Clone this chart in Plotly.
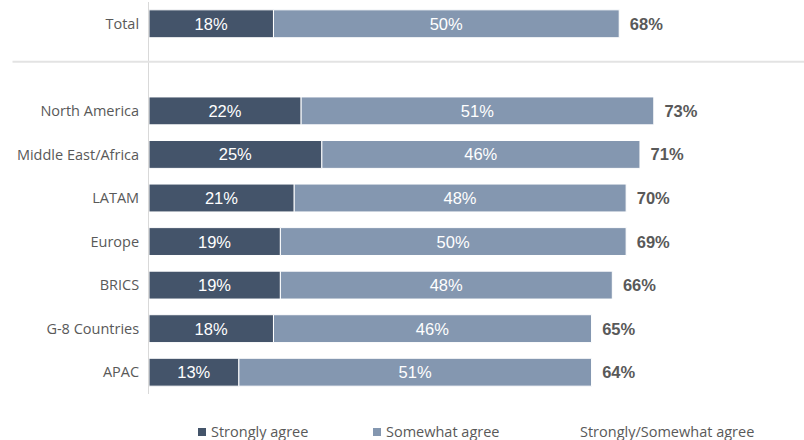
import plotly.graph_objects as go

categories = ["Total", " ", "North America", "Middle East/Africa", "LATAM", "Europe", "BRICS", "G-8 Countries", "APAC"]
strongly = [18, None, 22, 25, 21, 19, 19, 18, 13]
somewhat = [50, None, 51, 46, 48, 50, 48, 46, 51]
strongly_labels = ["18%", "", "22%", "25%", "21%", "19%", "19%", "18%", "13%"]
somewhat_labels = ["50%", "", "51%", "46%", "48%", "50%", "48%", "46%", "51%"]
total_labels = ["68%", "", "73%", "71%", "70%", "69%", "66%", "65%", "64%"]

DARK = "#44546A"
LIGHT = "#8497B0"
LABEL_GAP = 1.1

ends = [(a + b) if a is not None else None for a, b in zip(strongly, somewhat)]

fig = go.Figure()
fig.add_trace(go.Bar(
    y=categories, x=strongly, base=[0 if v is not None else None for v in strongly],
    orientation="h", name="Strongly agree",
    marker=dict(color=DARK, line=dict(color="white", width=1)),
    text=strongly_labels, textposition="inside", insidetextanchor="middle",
    textfont=dict(color="white", size=16.5, family="Liberation Sans, Arial"),
    showlegend=False, cliponaxis=False,
))
fig.add_trace(go.Bar(
    y=categories, x=somewhat, base=strongly,
    orientation="h", name="Somewhat agree",
    marker=dict(color=LIGHT, line=dict(color="white", width=1)),
    text=somewhat_labels, textposition="inside", insidetextanchor="middle",
    textfont=dict(color="white", size=16.5, family="Liberation Sans, Arial"),
    showlegend=False, cliponaxis=False,
))
fig.add_trace(go.Bar(
    y=categories, x=[8 if e is not None else None for e in ends],
    base=[e + LABEL_GAP if e is not None else None for e in ends],
    orientation="h", name="Strongly/Somewhat agree",
    marker=dict(color="rgba(0,0,0,0)", line=dict(width=0)),
    text=total_labels, textposition="inside", insidetextanchor="start",
    textfont=dict(color="#595959", size=16.5, family="Liberation Sans, Arial"),
    texttemplate="<b>%{text}</b>",
    showlegend=False, cliponaxis=False,
))

# separator line between Total and regions
fig.add_shape(type="line", xref="paper", yref="y", x0=-0.21, x1=1.01, y0=0.87, y1=0.87,
              line=dict(color="#E3E3E3", width=2))

# legend: squares as shapes, labels as annotations
def px_x(px):
    return (px - 149) / 650

def px_y(py):
    return (394 - py) / 392

for x0, col in [(198, DARK), (373, LIGHT)]:
    fig.add_shape(type="rect", xref="paper", yref="paper",
                  x0=px_x(x0), x1=px_x(x0 + 8), y0=px_y(436), y1=px_y(428),
                  fillcolor=col, line=dict(width=0))

leg_font = dict(family="Open Sans, Lato, sans-serif", size=14.5, color="#595959")
ly = px_y(431)
for x0, txt in [(209, "Strongly agree"), (384, "Somewhat agree"), (578, "Strongly/Somewhat agree")]:
    fig.add_annotation(xref="paper", yref="paper", x=px_x(x0), y=ly, xanchor="left", yanchor="middle",
                       text=txt, showarrow=False, font=leg_font)

fig.update_layout(
    width=804, height=440,
    margin=dict(l=149, r=5, t=2, b=46),
    barmode="overlay", bargap=0.36,
    plot_bgcolor="white", paper_bgcolor="white",
    showlegend=False,
    xaxis=dict(range=[0, 94], showgrid=False, zeroline=False, showticklabels=False, ticks=""),
    yaxis=dict(autorange="reversed", categoryorder="array", categoryarray=categories,
               showline=True, linecolor="#D9D9D9", linewidth=1, ticks="", ticklen=0,
               ticklabelstandoff=6,
               tickfont=dict(family="Open Sans, Lato, sans-serif", size=14.5, color="#595959"),
               showgrid=False),
)

fig.write_html("out.html")
